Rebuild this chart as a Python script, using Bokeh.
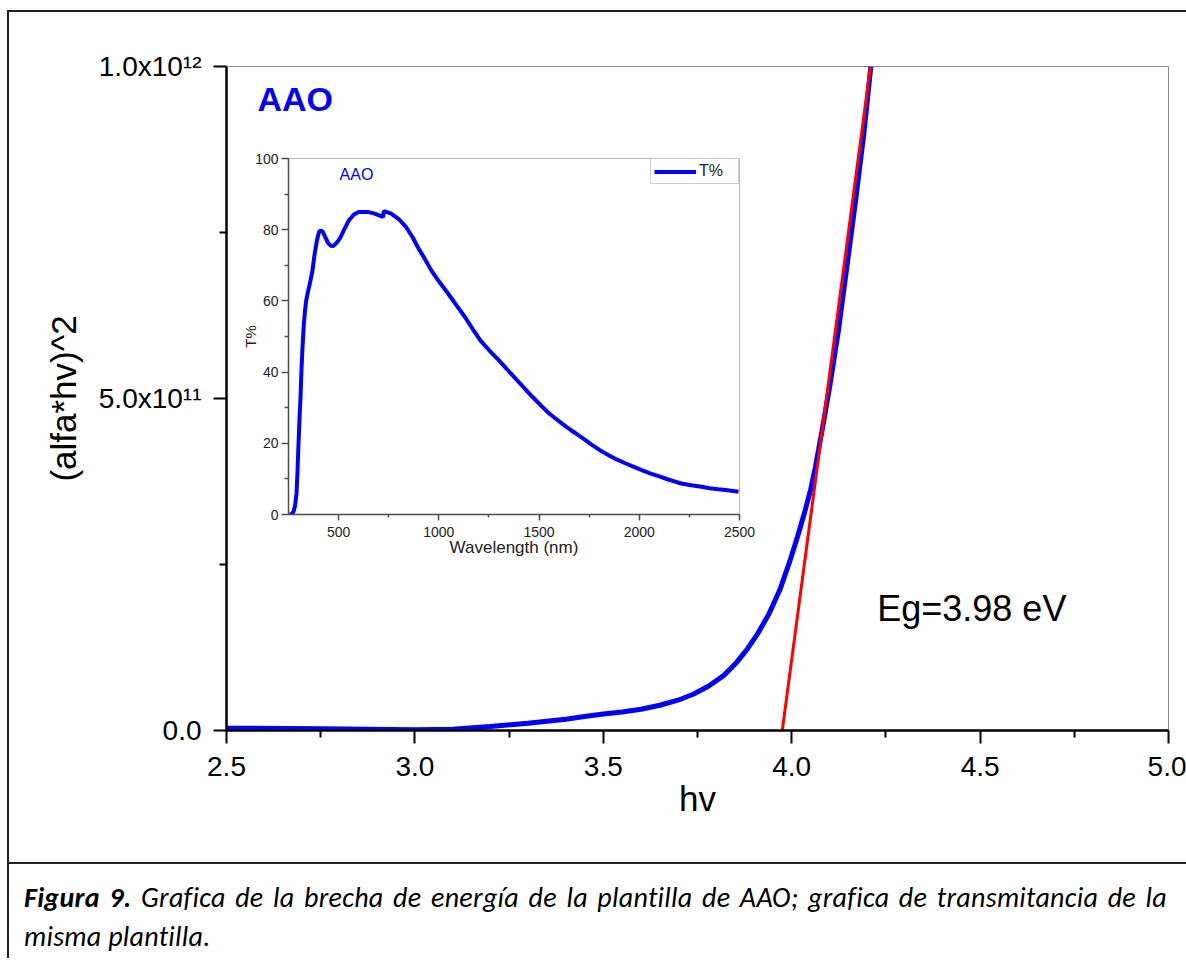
from bokeh.plotting import figure
from bokeh.models import Range1d, FixedTicker, Label, Legend, LegendItem, Div
from bokeh.layouts import column
from bokeh.embed import file_html
from bokeh.resources import INLINE

# ---------------- data: main plot (Tauc plot) ----------------
hv = [2.50, 2.75, 3.00, 3.10, 3.20, 3.30, 3.40, 3.45, 3.50, 3.55, 3.60, 3.65,
      3.70, 3.74, 3.78, 3.82, 3.85, 3.88, 3.91, 3.94, 3.97, 3.995, 4.015,
      4.033, 4.05, 4.063, 4.08, 4.10, 4.1234, 4.1468, 4.170, 4.1917, 4.21]
ahv2 = [0.0035e12, 0.0026e12, 0.0010e12, 0.0020e12, 0.0060e12, 0.011e12,
        0.017e12, 0.021e12, 0.025e12, 0.028e12, 0.032e12, 0.038e12, 0.046e12,
        0.055e12, 0.067e12, 0.083e12, 0.100e12, 0.121e12, 0.146e12, 0.176e12,
        0.214e12, 0.255e12, 0.291e12, 0.326e12, 0.362e12, 0.397e12, 0.450e12,
        0.515e12, 0.600e12, 0.700e12, 0.800e12, 0.900e12, 1.000e12]
fit_hv = [3.975, 4.209]
fit_ahv2 = [0.0, 1.0e12]

x_ticks = [2.5, 3.0, 3.5, 4.0, 4.5, 5.0]
x_tick_labels = ["2.5", "3.0", "3.5", "4.0", "4.5", "5.0"]
x_minor = [2.75, 3.25, 3.75, 4.25, 4.75]
y_ticks = [0.0, 5.0e11, 1.0e12]
y_tick_labels = ["0.0", "5.0x10\u00b9\u00b9", "1.0x10\u00b9\u00b2"]
y_minor = [2.5e11, 7.5e11]

# ---------------- data: inset (transmittance) ----------------
wl = [255, 265, 275, 283, 290, 295, 300, 305, 310, 315, 320, 326, 332, 338,
      345, 355, 368, 380, 392, 402, 410, 420, 433, 445, 455, 465, 475, 490,
      508, 530, 550, 575, 600, 645, 680, 718, 722, 725, 760, 800, 837, 870,
      896, 930, 963, 1000, 1047, 1090, 1131, 1170, 1207, 1250, 1300, 1340,
      1384, 1425, 1468, 1510, 1552, 1595, 1636, 1680, 1721, 1760, 1805, 1850,
      1889, 1930, 1973, 2015, 2057, 2100, 2141, 2175, 2209, 2260, 2310, 2350,
      2394, 2440, 2495]
tr = [0.0, 0.1, 0.8, 2.5, 6.0, 12.0, 20.0, 27.0, 33.0, 41.0, 47.0, 53.0, 57.0,
      60.0, 62.0, 64.5, 68.0, 73.0, 77.0, 79.3, 79.8, 79.5, 78.0, 76.5, 75.8,
      75.4, 75.5, 76.3, 77.7, 80.3, 82.5, 84.2, 85.0, 85.0, 84.5, 83.7, 83.5,
      85.2, 84.6, 83.0, 80.7, 77.8, 75.0, 71.8, 68.5, 65.5, 62.0, 58.6, 55.4,
      52.0, 48.9, 46.2, 43.3, 40.8, 38.1, 35.6, 33.0, 30.6, 28.3, 26.4, 24.6,
      22.9, 21.3, 19.7, 18.0, 16.6, 15.4, 14.4, 13.4, 12.4, 11.5, 10.7, 9.9,
      9.3, 8.7, 8.2, 7.8, 7.4, 7.1, 6.8, 6.4]
in_x_ticks = [500, 1000, 1500, 2000, 2500]
in_x_minor = [750, 1250, 1750, 2250]
in_y_ticks = [0, 20, 40, 60, 80, 100]
in_y_minor = [10, 30, 50, 70, 90]

FONT = "Liberation Sans"

# ---------------- main figure ----------------
p = figure(width=1177, height=850, x_range=Range1d(2.5, 5.0),
           y_range=Range1d(0, 1.0e12), output_backend="svg",
           toolbar_location=None, min_border_left=217, min_border_right=18,
           min_border_top=54, min_border_bottom=132)
p.grid.visible = False
p.outline_line_color = "#8c8c8c"
p.outline_line_width = 1
p.background_fill_color = "white"
p.border_fill_color = "white"

p.line(hv, ahv2, line_color="#0000ff", line_width=5)
p.line(fit_hv, fit_ahv2, line_color="#ff0000", line_width=3)

for ax in (p.xaxis[0], p.yaxis[0]):
    ax.axis_line_color = "black"
    ax.axis_line_width = 2.5
    ax.major_tick_line_color = "black"
    ax.major_tick_line_width = 2
    ax.minor_tick_line_color = "black"
    ax.minor_tick_line_width = 2
    ax.major_tick_in = 0
    ax.major_tick_out = 13
    ax.minor_tick_in = 0
    ax.minor_tick_out = 7
    ax.major_label_text_font = FONT
    ax.major_label_text_font_size = "28px"
    ax.major_label_text_color = "black"
    ax.axis_label_text_font = FONT
    ax.axis_label_text_font_size = "35px"
    ax.axis_label_text_font_style = "normal"
    ax.axis_label_text_color = "black"

xa = p.xaxis[0]
xa.ticker = FixedTicker(ticks=x_ticks, minor_ticks=x_minor)
xa.major_label_overrides = {t: s for t, s in zip(x_ticks, x_tick_labels)}
xa.major_label_standoff = 13
xa.axis_label = "hv"
xa.axis_label_standoff = 0

ya = p.yaxis[0]
ya.ticker = FixedTicker(ticks=y_ticks, minor_ticks=y_minor)
ya.major_label_overrides = {t: s for t, s in zip(y_ticks, y_tick_labels)}
ya.major_label_standoff = 12
ya.axis_label = "(alfa*hv)^2"
ya.axis_label_standoff = 13

p.add_layout(Label(x=2.582, y=0.951e12, text="AAO", text_font=FONT,
                   text_font_size="34px", text_font_style="bold",
                   text_color="#0000ff", text_baseline="middle"))
p.add_layout(Label(x=4.227, y=0.1837e12, text="Eg=3.98 eV", text_font=FONT,
                   text_font_size="36px", text_color="black",
                   text_baseline="middle"))

# ---------------- inset figure ----------------
# left/right borders equal to the main plot's (a column aligns them)
ins = figure(width=686, height=414, x_range=Range1d(250, 2500),
             y_range=Range1d(0, 100), output_backend="svg",
             toolbar_location=None, min_border_left=217, min_border_right=18,
             min_border_top=8, min_border_bottom=50)
ins.grid.visible = False
ins.outline_line_color = "#bdbdbd"
ins.outline_line_width = 1
ins.background_fill_color = "white"
ins.border_fill_alpha = 0.0

r_t = ins.line(wl, tr, line_color="#0000ff", line_width=4)

for ax in (ins.xaxis[0], ins.yaxis[0]):
    ax.axis_line_color = "#4d4d4d"
    ax.axis_line_width = 1.5
    ax.major_tick_line_color = "#4d4d4d"
    ax.major_tick_line_width = 1.5
    ax.minor_tick_line_color = "#4d4d4d"
    ax.minor_tick_line_width = 1.5
    ax.major_tick_in = 0
    ax.minor_tick_in = 0
    ax.major_label_text_font = FONT
    ax.major_label_text_font_size = "14px"
    ax.major_label_text_color = "#222222"
    ax.axis_label_text_font = FONT
    ax.axis_label_text_font_style = "normal"
    ax.axis_label_text_color = "#222222"

ixa = ins.xaxis[0]
ixa.ticker = FixedTicker(ticks=in_x_ticks, minor_ticks=in_x_minor)
ixa.major_tick_out = 6
ixa.minor_tick_out = 3
ixa.major_label_standoff = 6
ixa.axis_label = "Wavelength (nm)"
ixa.axis_label_text_font_size = "17px"
ixa.axis_label_standoff = -2

iya = ins.yaxis[0]
iya.ticker = FixedTicker(ticks=in_y_ticks, minor_ticks=in_y_minor)
iya.major_tick_out = 7
iya.minor_tick_out = 4
iya.major_label_standoff = 3
iya.axis_label = "T%"
iya.axis_label_text_font_size = "15px"
iya.axis_label_standoff = -7

ins.add_layout(Label(x=505, y=95.6, text="AAO", text_font=FONT,
                     text_font_size="16px", text_color="#0000ff",
                     text_baseline="middle"))

leg = Legend(items=[LegendItem(label="T%", renderers=[r_t])],
             location="top_right", margin=0, padding=3, spacing=0,
             glyph_width=42, glyph_height=17, label_height=17,
             label_width=36, label_standoff=3, label_text_font=FONT,
             label_text_font_size="16px", label_text_color="#222222",
             border_line_color="#999999", border_line_width=1,
             background_fill_color="white", background_fill_alpha=1.0)
ins.add_layout(leg)
ins.styles = {"position": "absolute", "left": "62px", "top": "138px"}

# ---------------- caption ----------------
cap_bold = "Figura 9."
cap_line1 = " Grafica de la brecha de energía de la plantilla de AAO; grafica de transmitancia de la"
cap_line2 = "misma plantilla."
cap_html = (
    '<div style="width:1177px;height:96px;box-sizing:border-box;'
    'border-top:2px solid #222;padding:14px 19px 0 15px;'
    'font-family:Carlito, Lato, sans-serif;font-style:italic;'
    'font-size:28px;letter-spacing:0.3px;line-height:39px;color:#000;">'
    '<div style="text-align:justify;text-align-last:justify;">'
    f'<b>{cap_bold}</b>{cap_line1}</div>'
    f'<div>{cap_line2}</div></div>'
)
cap = Div(text=cap_html, width=1177, height=96, margin=(0, 0, 0, 0))

root = column(p, cap, ins, spacing=0,
              styles={"border-left": "2px solid #222",
                      "border-top": "2px solid #222",
                      "margin-top": "10px", "margin-left": "7px"})

open("out.html", "w").write(file_html(root, INLINE))
